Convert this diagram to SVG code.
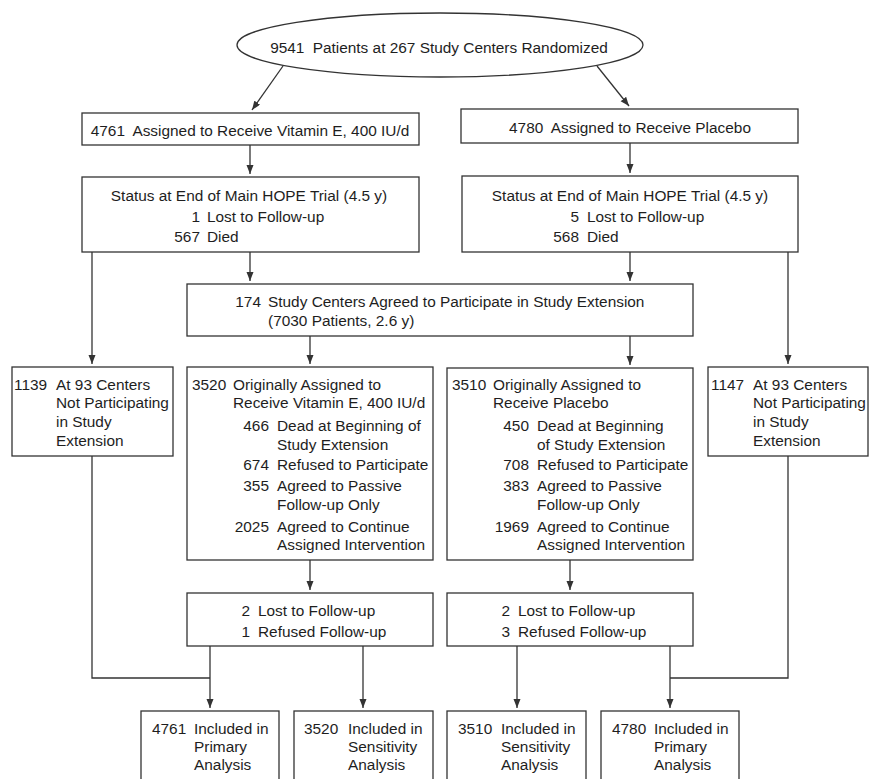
<svg xmlns="http://www.w3.org/2000/svg" width="873" height="779" viewBox="0 0 873 779">
<defs>
<style>
.bx{fill:#fff;stroke:#333;stroke-width:1.3}
.ln{fill:none;stroke:#333;stroke-width:1.3}
.ar{marker-end:url(#ah)}
text{font-family:"Liberation Sans",Arial,sans-serif;font-size:15.4px;fill:#1e1e1e}
.e{text-anchor:end}
.m{text-anchor:middle}
</style>
<marker id="ah" markerUnits="userSpaceOnUse" markerWidth="9" markerHeight="8" refX="9" refY="3.5" orient="auto">
<path d="M0,0 L9,3.5 L0,7 z" fill="#333"/>
</marker>
</defs>
<rect width="873" height="779" fill="#fff"/>
<g id="connectors">
<line class="ln ar" x1="283" y1="66" x2="252" y2="110"/>
<line class="ln ar" x1="597" y1="66" x2="629" y2="106"/>
<line class="ln ar" x1="250" y1="145" x2="250" y2="174"/>
<line class="ln ar" x1="630" y1="143" x2="630" y2="173"/>
<line class="ln ar" x1="92" y1="252" x2="92" y2="364"/>
<line class="ln ar" x1="250" y1="252" x2="250" y2="281"/>
<line class="ln ar" x1="630" y1="252" x2="630" y2="281"/>
<line class="ln ar" x1="788" y1="252" x2="788" y2="364"/>
<line class="ln ar" x1="310" y1="336" x2="310" y2="364"/>
<line class="ln ar" x1="630" y1="336" x2="630" y2="365"/>
<line class="ln ar" x1="310" y1="560" x2="310" y2="590"/>
<line class="ln ar" x1="570" y1="560" x2="570" y2="590"/>
<polyline class="ln" points="92,456 92,678 210,678"/>
<line class="ln ar" x1="210" y1="646" x2="210" y2="708"/>
<line class="ln ar" x1="363" y1="646" x2="363" y2="708"/>
<line class="ln ar" x1="517" y1="646" x2="517" y2="708"/>
<line class="ln ar" x1="670" y1="646" x2="670" y2="708"/>
<polyline class="ln" points="788,456 788,678 670,678"/>
</g>
<g id="randomized">
<ellipse class="bx" cx="440" cy="45" rx="203" ry="32"/>
<text class="m" x="439" y="52.5">9541<tspan dx="4"> Patients at 267 Study Centers Randomized</tspan></text>
</g>
<g id="vitE">
<rect class="bx" x="82" y="113" width="337" height="32"/>
<text class="m" x="250" y="135.5">4761<tspan dx="4"> Assigned to Receive Vitamin E, 400 IU/d</tspan></text>
</g>
<g id="placebo">
<rect class="bx" x="461" y="109" width="337" height="34"/>
<text class="m" x="630" y="132.5">4780<tspan dx="4"> Assigned to Receive Placebo</tspan></text>
</g>
<g id="statusE">
<rect class="bx" x="82" y="177" width="337" height="75"/>
<text class="m" x="249" y="201">Status at End of Main HOPE Trial (4.5 y)</text>
<text class="e" x="200" y="221.5">1</text><text x="207" y="221.5">Lost to Follow-up</text>
<text class="e" x="200" y="242">567</text><text x="207" y="242">Died</text>
</g>
<g id="statusP">
<rect class="bx" x="462" y="176" width="336" height="76"/>
<text class="m" x="630" y="201">Status at End of Main HOPE Trial (4.5 y)</text>
<text class="e" x="579" y="221.5">5</text><text x="587" y="221.5">Lost to Follow-up</text>
<text class="e" x="579" y="242">568</text><text x="587" y="242">Died</text>
</g>
<g id="extension">
<rect class="bx" x="187" y="284" width="506" height="52"/>
<text class="e" x="261" y="306.5">174</text><text x="268" y="306.5">Study Centers Agreed to Participate in Study Extension</text>
<text x="268" y="325.5">(7030 Patients, 2.6 y)</text>
</g>
<g id="notPartE">
<rect class="bx" x="12" y="367" width="161" height="89"/>
<text x="14" y="389.5">1139</text><text x="56" y="389.5">At 93 Centers</text>
<text x="56" y="408.2">Not Participating</text>
<text x="56" y="426.9">in Study</text>
<text x="56" y="445.6">Extension</text>
</g>
<g id="extE">
<rect class="bx" x="187" y="367" width="246" height="193"/>
<text x="192" y="389.5">3520</text><text x="233" y="389.5">Originally Assigned to</text>
<text x="233" y="408">Receive Vitamin E, 400 IU/d</text>
<text class="e" x="269" y="430.5">466</text><text x="277" y="430.5">Dead at Beginning of</text>
<text x="277" y="449.5">Study Extension</text>
<text class="e" x="269" y="469.5">674</text><text x="277" y="469.5">Refused to Participate</text>
<text class="e" x="269" y="490.5">355</text><text x="277" y="490.5">Agreed to Passive</text>
<text x="277" y="509.5">Follow-up Only</text>
<text class="e" x="269" y="531.5">2025</text><text x="277" y="531.5">Agreed to Continue</text>
<text x="277" y="549.5">Assigned Intervention</text>
</g>
<g id="extP">
<rect class="bx" x="447" y="368" width="246" height="192"/>
<text x="452" y="389.5">3510</text><text x="493" y="389.5">Originally Assigned to</text>
<text x="493" y="408">Receive Placebo</text>
<text class="e" x="529" y="430.5">450</text><text x="537" y="430.5">Dead at Beginning</text>
<text x="537" y="449.5">of Study Extension</text>
<text class="e" x="529" y="469.5">708</text><text x="537" y="469.5">Refused to Participate</text>
<text class="e" x="529" y="490.5">383</text><text x="537" y="490.5">Agreed to Passive</text>
<text x="537" y="509.5">Follow-up Only</text>
<text class="e" x="529" y="531.5">1969</text><text x="537" y="531.5">Agreed to Continue</text>
<text x="537" y="549.5">Assigned Intervention</text>
</g>
<g id="notPartP">
<rect class="bx" x="708" y="367" width="160" height="89"/>
<text x="711" y="389.5">1147</text><text x="753" y="389.5">At 93 Centers</text>
<text x="753" y="408.2">Not Participating</text>
<text x="753" y="426.9">in Study</text>
<text x="753" y="445.6">Extension</text>
</g>
<g id="lostE">
<rect class="bx" x="187" y="593" width="246" height="53"/>
<text class="e" x="250" y="615.5">2</text><text x="258" y="615.5">Lost to Follow-up</text>
<text class="e" x="250" y="636.5">1</text><text x="258" y="636.5">Refused Follow-up</text>
</g>
<g id="lostP">
<rect class="bx" x="447" y="593" width="246" height="53"/>
<text class="e" x="510" y="615.5">2</text><text x="518" y="615.5">Lost to Follow-up</text>
<text class="e" x="510" y="636.5">3</text><text x="518" y="636.5">Refused Follow-up</text>
</g>
<g id="primaryE">
<rect class="bx" x="141" y="711" width="138" height="80"/>
<text x="152" y="733.5">4761</text><text x="194" y="733.5">Included in</text>
<text x="194" y="751.5">Primary</text>
<text x="194" y="769.5">Analysis</text>
</g>
<g id="sensE">
<rect class="bx" x="294" y="711" width="139" height="80"/>
<text x="304" y="733.5">3520</text><text x="348" y="733.5">Included in</text>
<text x="348" y="751.5">Sensitivity</text>
<text x="348" y="769.5">Analysis</text>
</g>
<g id="sensP">
<rect class="bx" x="447" y="711" width="139" height="80"/>
<text x="458" y="733.5">3510</text><text x="501" y="733.5">Included in</text>
<text x="501" y="751.5">Sensitivity</text>
<text x="501" y="769.5">Analysis</text>
</g>
<g id="primaryP">
<rect class="bx" x="601" y="711" width="138" height="80"/>
<text x="612" y="733.5">4780</text><text x="654" y="733.5">Included in</text>
<text x="654" y="751.5">Primary</text>
<text x="654" y="769.5">Analysis</text>
</g>
</svg>
